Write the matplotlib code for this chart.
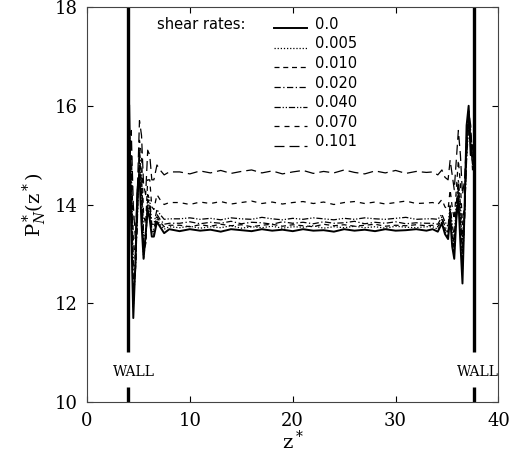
import matplotlib
matplotlib.use("Agg")
import matplotlib.pyplot as plt
import numpy as np

plt.rcParams['mathtext.fontset'] = 'dejavuserif'

# ---- data ----
shear_rates = ["0.0", "0.005", "0.010", "0.020", "0.040", "0.070", "0.101"]

z_left = [4.1, 4.3, 4.5, 4.7, 4.9, 5.1, 5.3, 5.5, 5.7, 5.9, 6.1, 6.3, 6.5, 6.8, 7.1, 7.5, 8.0]
z_mid = [9, 10, 11, 12, 13, 14, 15, 16, 17, 18, 19, 20, 21, 22, 23, 24, 25, 26, 27, 28, 29, 30, 31, 32, 33]
z_right = [33.6, 34.1, 34.5, 34.8, 35.1, 35.3, 35.5, 35.7, 35.9, 36.1, 36.3, 36.5, 36.7, 36.9, 37.1, 37.3, 37.5]

left_profiles = [
    [16.0, 13.5, 11.7, 12.8, 14.3, 14.6, 13.6, 12.9, 13.4, 13.9, 13.7, 13.35, 13.35, 13.65, 13.55, 13.42, 13.5],
    [15.8, 13.8, 11.9, 12.7, 14.1, 14.8, 13.9, 12.9, 13.3, 14.0, 13.8, 13.4, 13.4, 13.7, 13.6, 13.5, 13.55],
    [15.6, 14.2, 12.2, 12.6, 13.9, 14.9, 14.2, 13.0, 13.2, 14.1, 13.9, 13.45, 13.45, 13.75, 13.65, 13.55, 13.58],
    [15.4, 14.5, 12.5, 12.6, 13.8, 15.0, 14.4, 13.2, 13.2, 14.1, 14.0, 13.5, 13.5, 13.8, 13.7, 13.6, 13.62],
    [15.2, 14.8, 12.8, 12.7, 13.7, 15.1, 14.6, 13.4, 13.3, 14.2, 14.1, 13.6, 13.6, 13.9, 13.8, 13.7, 13.71],
    [15.0, 15.2, 13.3, 12.9, 13.8, 15.3, 15.0, 13.8, 13.6, 14.5, 14.5, 13.95, 13.9, 14.2, 14.1, 14.0, 14.04],
    [14.8, 15.5, 14.0, 13.3, 14.3, 15.7, 15.4, 14.4, 14.2, 15.1, 15.0, 14.5, 14.5, 14.8, 14.7, 14.6, 14.66],
]

mid_profiles = [
    [13.46, 13.50, 13.47, 13.49, 13.45, 13.50, 13.48, 13.46, 13.50, 13.47, 13.49, 13.46, 13.50, 13.47, 13.48, 13.45, 13.50, 13.47, 13.49, 13.46, 13.50, 13.47, 13.48, 13.50, 13.47],
    [13.53, 13.56, 13.52, 13.55, 13.53, 13.57, 13.52, 13.55, 13.53, 13.56, 13.52, 13.55, 13.54, 13.57, 13.52, 13.55, 13.53, 13.56, 13.53, 13.55, 13.52, 13.56, 13.54, 13.53, 13.55],
    [13.58, 13.55, 13.59, 13.56, 13.60, 13.57, 13.59, 13.55, 13.58, 13.60, 13.56, 13.59, 13.57, 13.55, 13.60, 13.57, 13.59, 13.56, 13.58, 13.60, 13.56, 13.58, 13.57, 13.59, 13.57],
    [13.62, 13.65, 13.61, 13.64, 13.62, 13.66, 13.61, 13.64, 13.63, 13.60, 13.65, 13.62, 13.64, 13.61, 13.65, 13.62, 13.63, 13.66, 13.61, 13.64, 13.62, 13.65, 13.61, 13.63, 13.62],
    [13.71, 13.73, 13.70, 13.72, 13.69, 13.73, 13.71, 13.70, 13.74, 13.71, 13.69, 13.72, 13.70, 13.73, 13.71, 13.69, 13.72, 13.70, 13.73, 13.71, 13.70, 13.72, 13.74, 13.70, 13.71],
    [14.04, 14.00, 14.05, 14.02, 14.06, 14.01, 14.04, 14.07, 14.02, 14.05, 14.01, 14.04, 14.06, 14.02, 14.05, 14.00, 14.04, 14.06, 14.02, 14.05, 14.01, 14.04, 14.07, 14.02, 14.03],
    [14.66, 14.62, 14.68, 14.64, 14.69, 14.63, 14.67, 14.70, 14.64, 14.68, 14.62, 14.66, 14.69, 14.63, 14.67, 14.64, 14.70, 14.65, 14.62, 14.68, 14.64, 14.69, 14.63, 14.67, 14.65],
]

right_profiles = [
    [13.5, 13.45, 13.62, 13.4, 13.3, 13.75, 13.15, 12.9, 13.7, 14.1, 13.2, 12.4, 13.9, 15.6, 16.0, 15.0, 15.2],
    [13.55, 13.5, 13.65, 13.45, 13.35, 13.8, 13.25, 13.0, 13.75, 14.2, 13.4, 12.7, 13.8, 15.4, 15.9, 15.1, 15.0],
    [13.58, 13.55, 13.7, 13.5, 13.4, 13.85, 13.35, 13.1, 13.8, 14.3, 13.6, 12.9, 13.7, 15.2, 15.8, 15.2, 14.9],
    [13.62, 13.6, 13.75, 13.55, 13.45, 13.9, 13.45, 13.2, 13.9, 14.4, 13.8, 13.1, 13.7, 15.0, 15.7, 15.3, 14.8],
    [13.71, 13.7, 13.8, 13.65, 13.55, 14.0, 13.6, 13.35, 14.0, 14.5, 14.0, 13.3, 13.8, 14.9, 15.6, 15.4, 14.7],
    [14.04, 14.0, 14.1, 13.95, 13.9, 14.3, 13.95, 13.7, 14.3, 14.9, 14.4, 13.6, 14.0, 15.0, 15.7, 15.5, 14.6],
    [14.66, 14.6, 14.7, 14.55, 14.5, 14.9, 14.6, 14.3, 14.9, 15.5, 15.0, 14.2, 14.5, 15.3, 15.9, 15.6, 14.8],
]

wall_positions = [3.95, 37.65]

x_ticks = [0, 10, 20, 30, 40]
y_ticks = [10, 12, 14, 16, 18]

# ---- styles ----
styles = [
    dict(ls='-', lw=1.4),
    dict(ls=(0, (1, 1.5)), lw=0.9),
    dict(ls=(0, (4, 3)), lw=0.9),
    dict(ls=(0, (5, 2, 1, 2)), lw=0.9),
    dict(ls=(0, (5, 1.5, 1, 1.5, 1, 1.5)), lw=0.9),
    dict(ls=(0, (4, 4)), lw=0.9),
    dict(ls=(0, (8, 4)), lw=0.9),
]

fig = plt.figure(figsize=(5.13, 4.59), dpi=100)
ax = fig.add_axes([0.1696, 0.1242, 0.8021, 0.8605])

for lp, mp, rp, st in zip(left_profiles, mid_profiles, right_profiles, styles):
    z = list(z_left) + list(z_mid) + list(z_right)
    p = list(lp) + list(mp) + list(rp)
    ax.plot(z, p, color='black', **st)

# walls
for wz in wall_positions:
    ax.plot([wz, wz], [11.02, 18.0], color='black', lw=2.4, solid_capstyle='butt')
    ax.plot([wz, wz], [10.0, 10.3], color='black', lw=2.4, solid_capstyle='butt')
ax.text(4.6, 10.61, 'WALL', ha='center', va='center', fontsize=10, family='DejaVu Serif')
ax.text(38.0, 10.61, 'WALL', ha='center', va='center', fontsize=10, family='DejaVu Serif')

# legend (manual)
ax.text(6.8, 17.65, 'shear rates:', ha='left', va='center', fontsize=10.5, family='DejaVu Sans')
y0 = 17.65
dy = 0.397
for i, (lab, st) in enumerate(zip(shear_rates, styles)):
    yy = y0 - i * dy
    ax.plot([18.2, 21.4], [yy - 0.08, yy - 0.08], color='black', **st)
    ax.text(22.2, yy, lab, ha='left', va='center', fontsize=10.5, family='DejaVu Sans')

ax.set_xlim(0, 40)
ax.set_ylim(10, 18)
ax.set_xticks(x_ticks)
ax.set_yticks(y_ticks)
ax.tick_params(direction='in', length=4, width=0.8, top=True, right=True,
               labelsize=13, pad=7)
for lab in ax.get_xticklabels() + ax.get_yticklabels():
    lab.set_family('DejaVu Serif')
for sp in ax.spines.values():
    sp.set_linewidth(0.8)
    sp.set_color('#444444')

ax.set_xlabel(r'z$^*$', fontsize=14, family='DejaVu Serif', labelpad=0)
ax.set_ylabel(r'P$^*_N$(z$^*$)', fontsize=14, family='DejaVu Serif', labelpad=4)

fig.savefig('out.png', dpi=100)
